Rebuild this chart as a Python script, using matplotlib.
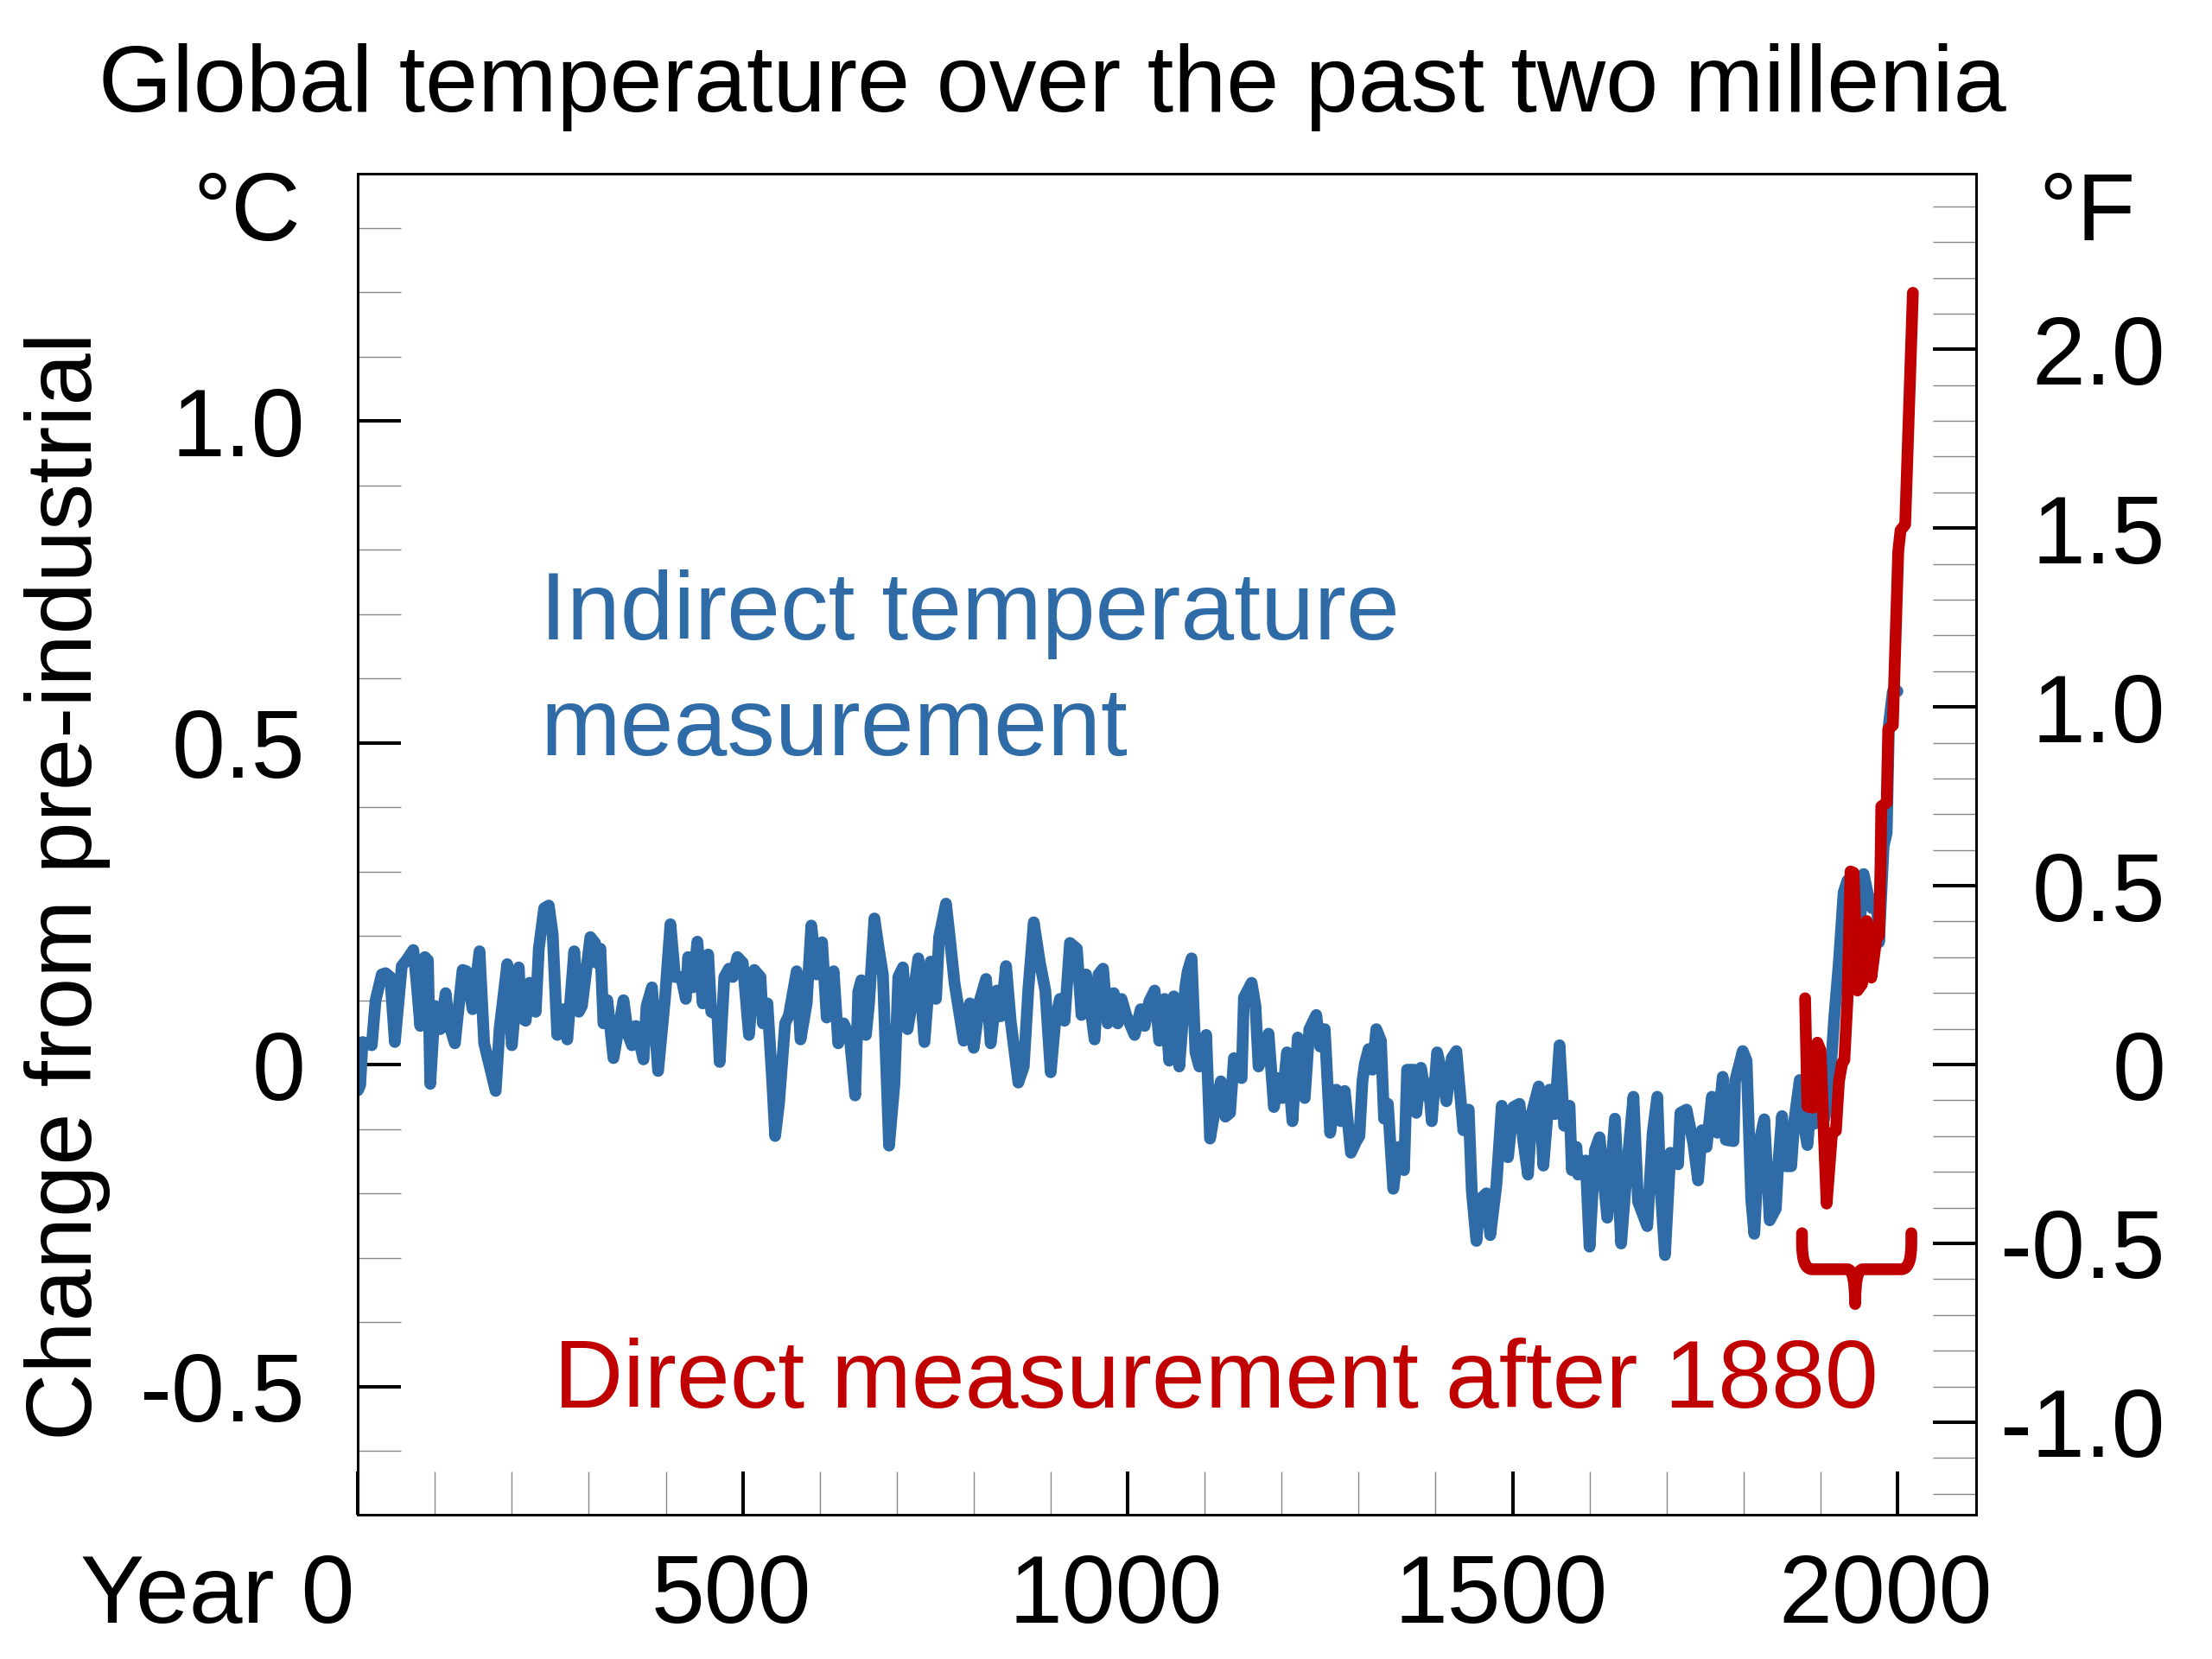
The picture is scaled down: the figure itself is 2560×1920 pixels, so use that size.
import matplotlib
matplotlib.use("Agg")
import matplotlib.pyplot as plt
from matplotlib.path import Path
from matplotlib.patches import PathPatch
from matplotlib.transforms import ScaledTranslation

plt.rcParams['font.family'] = ['Liberation Sans', 'DejaVu Sans']
plt.rcParams['font.size'] = 40

BLUE = "#2f6ca7"
RED = "#c00000"

# indirect (proxy) reconstruction, degC vs pre-industrial
proxy_years = [0, 3, 6, 18, 23, 31, 36, 42, 48, 57, 63, 72, 76, 81, 87, 91, 94, 100, 107, 114,
               119, 126, 136, 141, 149, 158, 164, 179, 184, 194, 200, 209, 212, 218, 223, 231, 235, 242, 248, 253,
               259, 267, 272, 281, 287, 291, 302, 308, 310, 315, 319, 324, 332, 345, 351, 356, 361, 371, 375, 382,
               390, 399, 406, 412, 420, 426, 429, 435, 441, 448, 455, 459, 467, 470, 476, 482, 487, 493, 500, 508,
               515, 523, 526, 532, 538, 542, 547, 555, 560, 564, 570, 575, 583, 589, 596, 603, 609, 618, 624, 631,
               639, 646, 650, 654, 660, 664, 671, 676, 682, 690, 697, 702, 708, 714, 721, 728, 736, 744, 751, 755,
               764, 770, 775, 781, 787, 795, 800, 808, 816, 822, 830, 835, 842, 848, 858, 865, 871, 878, 886, 893,
               900, 906, 912, 918, 925, 934, 940, 946, 957, 962, 968, 974, 977, 982, 987, 992, 998, 1009, 1017, 1022,
               1028, 1035, 1041, 1048, 1054, 1060, 1067, 1075, 1078, 1083, 1088, 1093, 1102, 1107, 1114, 1121, 1127,
               1133, 1138, 1148, 1151, 1161, 1166, 1170, 1176, 1183, 1190, 1196, 1201, 1207, 1214, 1221, 1230, 1236,
               1245, 1250, 1256, 1263, 1271, 1277, 1282, 1290, 1297, 1301, 1305, 1308, 1313, 1318, 1323, 1329, 1333,
               1338, 1345, 1352, 1359, 1363, 1372, 1375, 1381, 1387, 1391, 1395, 1402, 1408, 1414, 1421, 1427, 1436,
               1443, 1447, 1453, 1458, 1466, 1471, 1479, 1486, 1494, 1501, 1509, 1514, 1520, 1525, 1534, 1540, 1548,
               1555, 1561, 1567, 1574, 1577, 1583, 1585, 1595, 1600, 1607, 1613, 1623, 1633, 1641, 1649, 1657, 1663,
               1675, 1682, 1688, 1692, 1698, 1705, 1715, 1718, 1726, 1735, 1741, 1746, 1752, 1759, 1766, 1773, 1777,
               1787, 1789, 1799, 1804, 1810, 1814, 1820, 1827, 1834, 1842, 1845, 1850, 1855, 1862, 1866, 1873, 1877,
               1883, 1887, 1892, 1896, 1905, 1911, 1918, 1924, 1930, 1935, 1941, 1948, 1956, 1963, 1967, 1973, 1976,
               1982, 1986, 1989, 1994, 2000]
proxy_temp = [-0.04, -0.032, 0.035, 0.030, 0.100, 0.140, 0.142, 0.136, 0.035, 0.153, 0.162, 0.178, 0.131, 0.060,
              0.167, 0.162, -0.030, 0.091, 0.055, 0.111,
              0.060, 0.033, 0.147, 0.145, 0.086, 0.176, 0.033, -0.041, 0.055, 0.156, 0.030, 0.151, 0.073, 0.068,
              0.127, 0.082, 0.180, 0.243, 0.247, 0.203,
              0.046, 0.086, 0.039, 0.176, 0.082, 0.091, 0.198, 0.189, 0.158, 0.180, 0.064, 0.100, 0.010, 0.100,
              0.046, 0.030, 0.060, 0.008, 0.091, 0.120,
              -0.010, 0.104, 0.218, 0.136, 0.136, 0.102, 0.167, 0.120, 0.191, 0.095, 0.171, 0.082, 0.077, 0.004,
              0.136, 0.149, 0.136, 0.167, 0.158, 0.046,
              0.147, 0.136, 0.064, 0.095, -0.021, -0.111, -0.061, 0.064, 0.077, 0.104, 0.145, 0.039, 0.095, 0.216,
              0.140, 0.190, 0.073, 0.145, 0.033, 0.064,
              0.042, -0.048, 0.113, 0.131, 0.046, 0.095, 0.227, 0.185, 0.140, -0.126, -0.030, 0.136, 0.151, 0.055,
              0.104, 0.165, 0.035, 0.160, 0.102, 0.198,
              0.250, 0.185, 0.127, 0.082, 0.037, 0.095, 0.026, 0.100, 0.133, 0.033, 0.115, 0.075, 0.153, 0.068,
              -0.028, -0.003, 0.118, 0.221, 0.158, 0.115,
              -0.012, 0.068, 0.102, 0.068, 0.189, 0.180, 0.077, 0.140, 0.039, 0.140, 0.149, 0.064, 0.109, 0.111,
              0.064, 0.102, 0.077, 0.046, 0.086, 0.060,
              0.098, 0.115, 0.037, 0.102, 0.006, 0.106, -0.003, 0.122, 0.145, 0.165, 0.019, -0.003, 0.046, -0.115,
              -0.066, -0.026, -0.081,
              -0.075, 0.010, -0.021, 0.104, 0.127, 0.091, -0.003, 0.015, 0.048, -0.066, -0.021, -0.052, 0.019,
              -0.088, 0.042, -0.052, 0.055,
              0.077, 0.028, 0.055, -0.106, -0.039, -0.088, -0.041, -0.137, -0.119, -0.111, -0.026, 0.001, 0.024,
              -0.008, 0.055, 0.037, -0.084,
              -0.061, -0.193, -0.128, -0.164, -0.008, -0.008, -0.075, -0.005, -0.048, -0.030, -0.088, 0.019, -0.012,
              -0.057, 0.010, 0.021, -0.102,
              -0.070, -0.196, -0.274, -0.209, -0.200, -0.265, -0.187, -0.064, -0.144, -0.066, -0.061, -0.119, -0.171,
              -0.075, -0.034, -0.157, -0.039,
              -0.077, 0.030, -0.095, -0.064, -0.164, -0.128, -0.171, -0.149, -0.283, -0.133, -0.113, -0.238, -0.084,
              -0.278, -0.155, -0.050, -0.213,
              -0.251, -0.106, -0.050, -0.187, -0.296, -0.137, -0.155, -0.075, -0.070, -0.124, -0.180, -0.102, -0.128,
              -0.050, -0.106, -0.019, -0.117,
              -0.119, -0.026, 0.021, 0.006, -0.209, -0.263, -0.124, -0.085, -0.242, -0.224, -0.157, -0.080, -0.158,
              -0.158, -0.087, -0.024, -0.084,
              -0.125, -0.067, -0.092, -0.055, -0.084, -0.050, 0.075, 0.161, 0.267, 0.286, 0.224, 0.166, 0.296,
              0.257, 0.243, 0.257, 0.190,
              0.339, 0.36, 0.53, 0.58, 0.58]

# direct (instrumental) record after 1880
obs_years = [1880, 1883, 1890, 1896, 1900, 1908, 1915, 1920, 1924, 1928, 1931, 1935, 1939, 1943, 1948,
             1954, 1960, 1962, 1966, 1973, 1976, 1978, 1979, 1986, 1988, 1994, 2001, 2004, 2010, 2020]
obs_temp = [0.103, -0.065, -0.067, 0.034, 0.022, -0.216, -0.106, -0.103, -0.026, 0.002, 0.007, 0.099, 0.300,
            0.298, 0.115, 0.125, 0.223, 0.214, 0.135, 0.200, 0.200, 0.312, 0.401, 0.407, 0.521, 0.527, 0.797,
            0.830, 0.839, 1.199]

c_ticks = [-0.5, 0, 0.5, 1.0]
c_labels = ["-0.5", "0", "0.5", "1.0"]
f_ticks = [-1.0, -0.5, 0, 0.5, 1.0, 1.5, 2.0]
f_labels = ["-1.0", "-0.5", "0", "0.5", "1.0", "1.5", "2.0"]
year_ticks = [0, 500, 1000, 1500, 2000]
year_labels = ["Year 0", "500", "1000", "1500", "2000"]

# brace under the instrumental period
brace_left, brace_tip, brace_right = 1876, 1945, 2018
brace_top, brace_mid, brace_bot = -0.262, -0.318, -0.372

ylo, yhi = -0.699, 1.384
LW = 4.9

fig = plt.figure(figsize=(12.8, 9.6), dpi=200)
ax = fig.add_axes([0.1618, 0.0871, 0.7314, 0.8082])

ax.plot(proxy_years, proxy_temp, color=BLUE, lw=LW, solid_joinstyle='round', solid_capstyle='round', zorder=3)
ax.plot(obs_years, obs_temp, color=RED, lw=LW, solid_joinstyle='round', solid_capstyle='round', zorder=4)

# curly brace drawn as a path: rounded outer corners, pointed middle
rx, ry = 13, 0.04
tx = 10
verts = [(brace_left, brace_top), (brace_left, brace_mid + ry),
         (brace_left, brace_mid), (brace_left + rx, brace_mid),
         (brace_tip - tx, brace_mid),
         (brace_tip, brace_mid), (brace_tip, brace_bot),
         (brace_tip, brace_mid), (brace_tip + tx, brace_mid),
         (brace_right - rx, brace_mid),
         (brace_right, brace_mid), (brace_right, brace_mid + ry),
         (brace_right, brace_top)]
codes = [Path.MOVETO, Path.LINETO,
         Path.CURVE3, Path.CURVE3,
         Path.LINETO,
         Path.CURVE3, Path.CURVE3,
         Path.CURVE3, Path.CURVE3,
         Path.LINETO,
         Path.CURVE3, Path.CURVE3,
         Path.LINETO]
ax.add_patch(PathPatch(Path(verts, codes), fill=False, edgecolor=RED, lw=LW,
                       capstyle='round', joinstyle='round', zorder=4))

ax.set_xlim(0, 2101.7)
ax.set_ylim(ylo, yhi)

for s in ax.spines.values():
    s.set_linewidth(1.0)

ax.set_yticks(c_ticks)
ax.set_yticklabels(c_labels)
ax.set_yticks([v / 10 for v in range(-6, 14)], minor=True)
ax.set_xticks(year_ticks)
ax.set_xticklabels(year_labels)
ax.set_xticks(list(range(100, 2000, 100)), minor=True)

ax.tick_params(which='major', direction='in', length=18, width=1.45, color='black')
ax.tick_params(which='minor', direction='in', length=18, width=0.5, color='#888888')
ax.tick_params(axis='y', which='major', pad=22)
ax.tick_params(axis='x', which='major', pad=16)
ax.tick_params(top=False, right=False, which='both')

for lab in ax.get_xticklabels():
    if lab.get_text() == "Year 0":
        lab.set_horizontalalignment('right')
        lab.set_transform(lab.get_transform() + ScaledTranslation(-4 / 200, 0, fig.dpi_scale_trans))
    else:
        lab.set_transform(lab.get_transform() + ScaledTranslation(-13.5 / 200, 0, fig.dpi_scale_trans))

# Fahrenheit axis on the right
ax2 = ax.twinx()
ax2.set_ylim(ylo * 1.8, yhi * 1.8)
ax2.set_yticks(f_ticks)
ax2.set_yticklabels(f_labels)
ax2.set_yticks([v / 10 for v in range(-12, 25)], minor=True)
ax2.tick_params(which='major', direction='in', length=18, width=1.45, color='black', pad=79)
ax2.tick_params(which='minor', direction='in', length=18, width=0.5, color='#888888')
for lab in ax2.get_yticklabels():
    lab.set_horizontalalignment('right')
for s in ax2.spines.values():
    s.set_linewidth(1.0)

ax.text(237, 0.660, "Indirect temperature", color=BLUE, va='baseline', ha='left')
ax.text(237, 0.480, "measurement", color=BLUE, va='baseline', ha='left')
ax.text(255, -0.533, "Direct measurement after 1880", color=RED, va='baseline', ha='left')

fig.text(0.4758, 0.9327, "Global temperature over the past two millenia", ha='center', va='baseline',
         fontsize=39.5)
fig.text(0.1359, 0.8552, "°C", ha='right', va='baseline')
fig.text(0.9215, 0.8552, "°F", ha='left', va='baseline')
fig.text(0.0305, 0.466, "Change from pre-industrial", rotation=90, ha='center', va='center', fontsize=39)

fig.savefig("out.png", dpi=200)
